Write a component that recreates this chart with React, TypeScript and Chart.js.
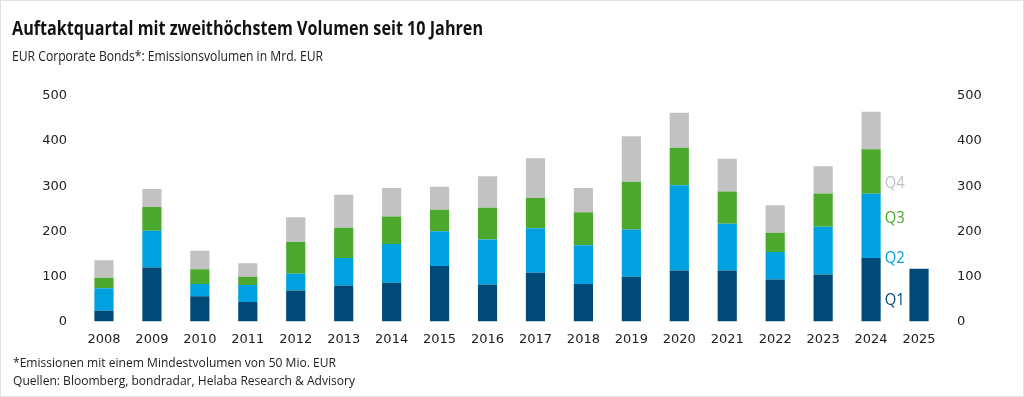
import React, { useEffect, useRef } from "react";
import { Chart, registerables } from "chart.js";

Chart.register(...registerables);

const years = ["2008","2009","2010","2011","2012","2013","2014","2015","2016","2017","2018","2019","2020","2021","2022","2023","2024","2025"];
const q1 = [24,120,56,43,69,80,86,123,82,108,83,99,113,113,93,104,141,117];
const q2 = [50,81,27,38,37,61,86,77,100,99,86,105,189,104,61,106,142,null];
const q3 = [23,53,33,18,70,67,61,48,70,67,73,106,83,71,43,74,99,null];
const q4 = [39,40,41,30,55,73,63,51,70,88,54,101,78,73,61,60,83,null];
const seriesNames = ["Q1","Q2","Q3","Q4"];
const seriesColors = ["#004a77","#00a1e1","#4da82e","#c2c2c2"];
const labelValues = [50,143,232,310];
const labelYearIndex = 16;

const TITLE = "Auftaktquartal mit zweithöchstem Volumen seit 10 Jahren";
const SUBTITLE = "EUR Corporate Bonds*: Emissionsvolumen in Mrd. EUR";
const FOOT1 = "*Emissionen mit einem Mindestvolumen von 50 Mio. EUR";
const FOOT2 = "Quellen: Bloomberg, bondradar, Helaba Research & Advisory";

function drawFit(ctx: CanvasRenderingContext2D, text: string, x: number, y: number, font: string, color: string, width: number) {
  ctx.save();
  ctx.font = font;
  const w = ctx.measureText(text).width;
  ctx.translate(x, y);
  ctx.scale(width / w, 1);
  ctx.fillStyle = color;
  ctx.textBaseline = "alphabetic";
  ctx.textAlign = "left";
  ctx.fillText(text, 0, 0);
  ctx.restore();
}

const decoPlugin = {
  id: "deco",
  beforeDraw(chart: any) {
    const ctx = chart.ctx as CanvasRenderingContext2D;
    ctx.save();
    ctx.fillStyle = "#ffffff";
    ctx.fillRect(0, 0, chart.width, chart.height);
    ctx.strokeStyle = "#e2e2e2";
    ctx.lineWidth = 1;
    ctx.strokeRect(0.5, 0.5, chart.width - 1, chart.height - 1);
    ctx.restore();
  },
  afterDraw(chart: any) {
    const ctx = chart.ctx as CanvasRenderingContext2D;
    drawFit(ctx, TITLE, 12, 34.5, "bold 20px 'Open Sans'", "#111111", 471);
    drawFit(ctx, SUBTITLE, 12, 60.8, "14px 'Open Sans'", "#222222", 311);
    drawFit(ctx, FOOT1, 13, 366.7, "13.5px 'Open Sans'", "#222222", 323);
    drawFit(ctx, FOOT2, 13, 385, "13.5px 'Open Sans'", "#222222", 342);
    const yScale = chart.scales.y;
    const meta = chart.getDatasetMeta(0);
    const bar = meta.data[labelYearIndex] as any;
    const x = bar.x + bar.width / 2 + 4;
    ctx.save();
    ctx.textBaseline = "middle";
    ctx.textAlign = "left";
    seriesNames.forEach((n, i) => {
      drawFit(ctx, n, x, yScale.getPixelForValue(labelValues[i]) + 6, "16px 'Open Sans'", seriesColors[i], 20);
    });
    ctx.restore();
  },
};

export default function App() {
  const ref = useRef<HTMLCanvasElement | null>(null);
  useEffect(() => {
    if (!ref.current) return;
    const data = [q1, q2, q3, q4];
    const chart = new Chart(ref.current, {
      type: "bar",
      data: {
        labels: years,
        datasets: seriesNames.map((n, i) => ({
          label: n,
          data: data[i],
          backgroundColor: seriesColors[i],
          borderWidth: 0,
          barPercentage: 0.4,
          categoryPercentage: 1,
          yAxisID: "y",
        })),
      },
      options: {
        animation: false,
        responsive: true,
        maintainAspectRatio: false,
        layout: { padding: { top: 96, left: 0, right: 0, bottom: 0 } },
        plugins: { legend: { display: false }, tooltip: { enabled: false }, title: { display: false } },
        scales: {
          x: {
            stacked: true,
            grid: { display: false, drawTicks: false },
            border: { display: false },
            ticks: { color: "#222", font: { family: "'DejaVu Sans'", size: 13 }, padding: 10, maxRotation: 0 },
            afterFit: (s: any) => { s.height = 75.5; },
          },
          y: {
            stacked: true,
            position: "left",
            min: 0,
            max: 500,
            grid: { display: false, drawTicks: false },
            border: { display: false },
            ticks: { stepSize: 100, color: "#222", font: { family: "'DejaVu Sans'", size: 13 }, padding: 13 },
            afterFit: (s: any) => { s.width = 80; },
          },
          y2: {
            position: "right",
            min: 0,
            max: 500,
            grid: { display: false, drawTicks: false },
            border: { display: false },
            ticks: { stepSize: 100, color: "#222", font: { family: "'DejaVu Sans'", size: 13 }, padding: 14 },
            afterFit: (s: any) => { s.width = 81; },
          },
        },
      },
      plugins: [decoPlugin],
    });
    return () => chart.destroy();
  }, []);
  return (
    <div style={{ position: "fixed", left: 0, top: 0, width: 1024, height: 397, background: "#fff" }}>
      <canvas ref={ref} />
    </div>
  );
}
